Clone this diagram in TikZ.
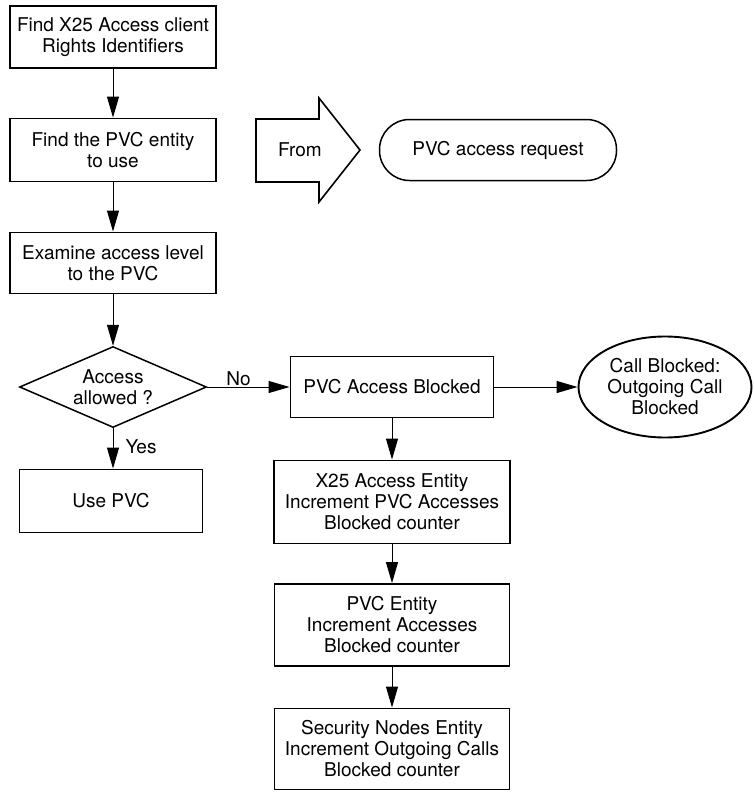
\documentclass[tikz,border=0pt]{standalone}
\usepackage{fontspec}
\setmainfont{TeX Gyre Heros}
\usetikzlibrary{arrows.meta,shapes.geometric}

\begin{document}
\begin{tikzpicture}[
  x=1pt,y=-1pt,
  every node/.style={font=\fontsize{19}{21}\selectfont},
  n/.style={draw=black,line width=1.9pt,align=center,inner sep=4pt},
  a/.style={-{Triangle[length=21pt,width=12pt]},line width=1pt},
  lbl/.style={inner sep=1pt}
]
\useasboundingbox (0,0) rectangle (753,792);
% left column
\node[n,minimum width=206pt,minimum height=62pt] (id) at (113,37) {Find X25 Access client\\Rights Identifiers};
\node[n,minimum width=206pt,minimum height=63pt] (ent) at (113,150) {Find the PVC entity\\to use};
\node[n,minimum width=206pt,minimum height=61pt] (lvl) at (113,263) {Examine access level\\to the PVC};
\node[n,diamond,line width=1.5pt,aspect=2.3,inner sep=0pt,minimum width=187pt,minimum height=81pt] (q) at (113,387) {Access\\allowed ?};
\node[n,minimum width=183pt,minimum height=63pt] (use) at (111,501) {Use PVC};
% entry point
\draw[line width=1.6pt,line join=miter] (256,119) -- (319,119) -- (319,98) -- (360,150) -- (319,202) -- (319,182) -- (256,182) -- cycle;
\node (from) at (300,150) {From};
\node[n,line width=1.5pt,rounded corners=30pt,minimum width=237pt,minimum height=61pt] (req) at (498,150) {PVC access request};
% blocked branch
\node[n,minimum width=203pt,minimum height=61pt] (blk) at (392,387) {PVC Access Blocked};
\node[n,ellipse,inner sep=0pt,minimum width=173pt,minimum height=101pt] (cb) at (665,387) {Call Blocked:\\Outgoing Call\\Blocked};
\node[n,minimum width=236pt,minimum height=83pt] (x25) at (392,502) {X25 Access Entity\\Increment PVC Accesses\\Blocked counter};
\node[n,minimum width=235pt,minimum height=82pt] (pe) at (392,625) {PVC Entity\\Increment Accesses\\Blocked counter};
\node[n,minimum width=235pt,minimum height=81pt] (sn) at (392,749) {Security Nodes Entity\\Increment Outgoing Calls\\Blocked counter};
\draw[a] (id)--(ent); \draw[a] (ent)--(lvl); \draw[a] (lvl)--(q);
\draw[a] (q.south)-- node[lbl,right=11pt,pos=0.46] (yes) {Yes} (q.south |- use.north);
\draw[a] (q.east)-- node[lbl,above,pos=0.38] (no) {No} (blk.west);
\draw[a] (blk)--(cb); \draw[a] (blk)--(x25);
\draw[a] (x25)--(pe); \draw[a] (pe)--(sn);
\end{tikzpicture}
\end{document}
